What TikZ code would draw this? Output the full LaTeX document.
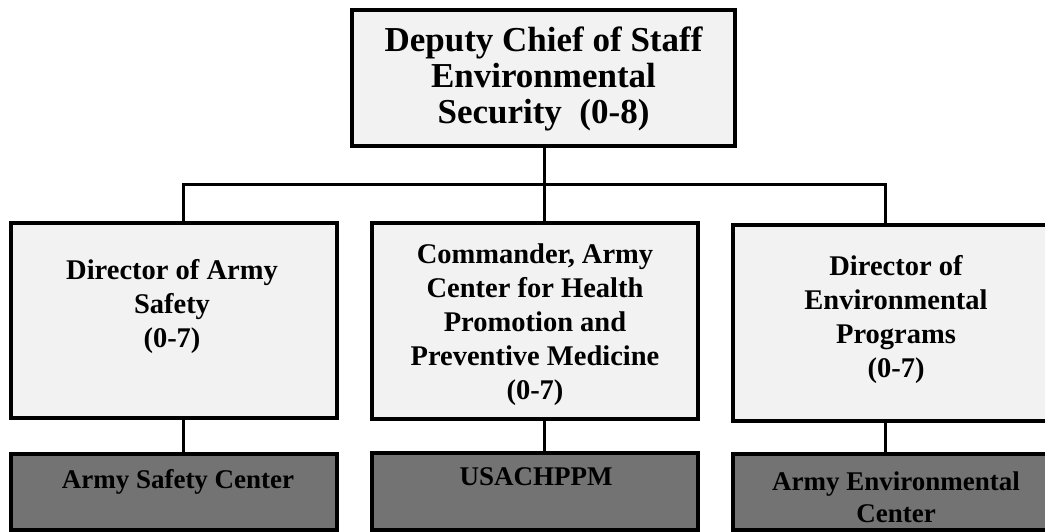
\documentclass[tikz,border=0pt]{standalone}
\usepackage{fontspec}
\setmainfont{Liberation Serif}
\begin{document}
\begin{tikzpicture}[x=1pt,y=-1pt,
  box/.style={draw=black, line width=3.5pt, fill=black!5, inner sep=0pt},
  darkbox/.style={draw=black, line width=3.5pt, fill=black!55, inner sep=0pt},
  toplbl/.style={font=\bfseries\fontsize{35}{36}\selectfont, align=center, inner sep=0pt},
  lbl/.style={font=\bfseries\fontsize{28.5}{34}\selectfont, align=center, inner sep=0pt},
  blbl/.style={font=\bfseries\fontsize{27}{32}\selectfont, align=center, inner sep=0pt},
  link/.style={line width=3pt}]
\useasboundingbox (0,0) rectangle (1045,531);
\clip (0,0) rectangle (1045,531);
% boxes
\node[box, minimum width=383pt, minimum height=136pt] (top) at (543.5,78) {};
\node[box, minimum width=326pt, minimum height=195pt] (lmid) at (174,320.5) {};
\node[box, minimum width=326pt, minimum height=196pt] (mmid) at (535,321) {};
\node[box, minimum width=324pt, minimum height=196pt] (rmid) at (895,323) {};
\node[darkbox, minimum width=326pt, minimum height=76pt] (lbot) at (174,492) {};
\node[darkbox, minimum width=326pt, minimum height=77pt] (mbot) at (535,491.5) {};
\node[darkbox, minimum width=324pt, minimum height=76pt] (rbot) at (895,492) {};
% labels
\node[toplbl] (toptext) at (543.5,79) {Deputy Chief of Staff\\Environmental\\Security\ \ (0-8)};
\node[lbl] (ltext) at (172,306) {Director of Army\\Safety\\(0-7)};
\node[lbl] (mtext) at (535,325) {Commander, Army\\Center for Health\\Promotion and\\Preventive Medicine\\(0-7)};
\node[lbl] (rtext) at (896,319) {Director of\\Environmental\\Programs\\(0-7)};
\node[blbl] (lbtext) at (178,482) {Army Safety Center};
\node[blbl] (mbtext) at (536,477) {USACHPPM};
\node[blbl] (rbtext) at (896,497) {Army Environmental\\Center};
% connectors
\coordinate (j) at (544,184);
\coordinate (jl) at (183,184);
\coordinate (jr) at (885,184);
\draw[link] (top.south -| j) -- (j);
\draw[link, line cap=rect] (jl) -- (jr);
\draw[link] (jl) -- (lmid.north -| jl);
\draw[link] (j) -- (mmid.north -| j);
\draw[link] (jr) -- (rmid.north -| jr);
\draw[link] (lmid.south -| jl) -- (lbot.north -| jl);
\draw[link] (mmid.south -| j) -- (mbot.north -| j);
\draw[link] (rmid.south -| jr) -- (rbot.north -| jr);
\end{tikzpicture}
\end{document}
